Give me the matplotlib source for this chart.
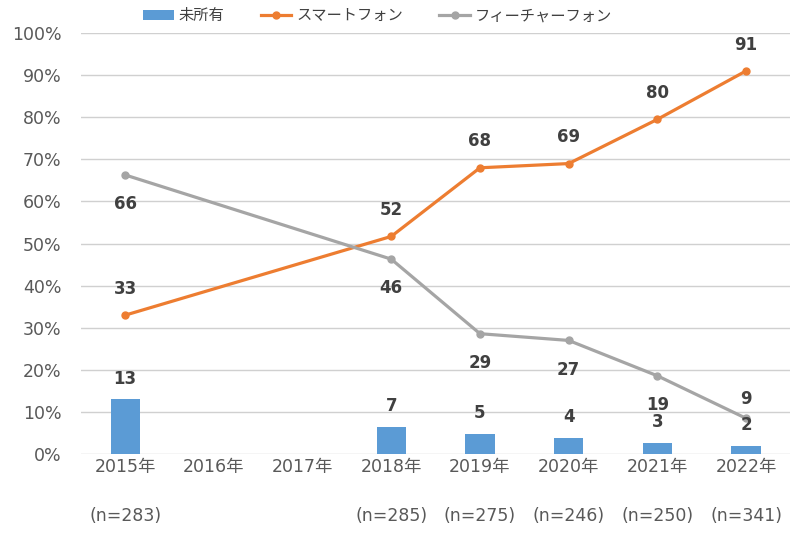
import numpy as np
import matplotlib.pyplot as plt

plt.rcParams['font.family'] = ['DejaVu Sans', 'Noto Sans CJK JP']

# カテゴリ
years = ['2015年', '2016年', '2017年', '2018年', '2019年', '2020年', '2021年', '2022年']
n_labels = ['(n=283)', '', '', '(n=285)', '(n=275)', '(n=246)', '(n=250)', '(n=341)']

# データ (2016, 2017 は調査なし)
data_years = ['2015年', '2018年', '2019年', '2020年', '2021年', '2022年']
unowned = [13, 6.5, 4.8, 3.8, 2.7, 2.0]
unowned_lbl = [13, 7, 5, 4, 3, 2]
smartphone = [33, 51.7, 68, 69, 79.5, 91]
smartphone_lbl = [33, 52, 68, 69, 80, 91]
feature = [66.3, 46.3, 28.6, 27, 18.6, 8.5]
feature_lbl = [66, 46, 29, 27, 19, 9]

c_bar = '#5B9BD5'
c_smart = '#ED7D31'
c_feat = '#A5A5A5'
c_txt = '#404040'

x = np.array([years.index(y) for y in data_years])

fig, ax = plt.subplots(figsize=(8, 5.33), dpi=100)
fig.subplots_adjust(left=0.101, right=0.988, top=0.938, bottom=0.148)

b = ax.bar(x, unowned, width=0.33, color=c_bar, label='未所有', zorder=2)
l1, = ax.plot(x, smartphone, color=c_smart, lw=2.3, marker='o', ms=5, label='スマートフォン', zorder=3)
l2, = ax.plot(x, feature, color=c_feat, lw=2.3, marker='o', ms=5, label='フィーチャーフォン', zorder=3)

# データラベル
lbl_kw = dict(textcoords='offset points', ha='center', va='center',
              fontsize=12, color=c_txt, fontweight='bold')
for xi, v, t in zip(x, unowned, unowned_lbl):
    ax.annotate(str(t), (xi, v), xytext=(0, 15), **lbl_kw)
for xi, v, t in zip(x, smartphone, smartphone_lbl):
    ax.annotate(str(t), (xi, v), xytext=(0, 19), **lbl_kw)
for i, (xi, v, t) in enumerate(zip(x, feature, feature_lbl)):
    dy = 14 if i == len(x) - 1 else -21
    ax.annotate(str(t), (xi, v), xytext=(0, dy), **lbl_kw)

ax.set_xlim(-0.5, len(years) - 0.5)
ax.set_ylim(0, 100)
ax.set_yticks(np.arange(0, 101, 10))
ax.set_yticklabels([f'{v}%' for v in range(0, 101, 10)])
ax.set_xticks(range(len(years)))
ax.set_xticklabels([f'{y}\n{n}' for y, n in zip(years, n_labels)], linespacing=3.2, va='top')

ax.grid(axis='y', color='#D0D0D0', lw=1, zorder=0)
ax.set_axisbelow(True)
for s in ax.spines.values():
    s.set_visible(False)
ax.tick_params(length=0, labelsize=12.5, colors='#595959')
ax.tick_params(axis='x', pad=3)
ax.tick_params(axis='y', pad=14)

fig.legend([b, l1, l2], ['未所有', 'スマートフォン', 'フィーチャーフォン'],
           loc='upper center', bbox_to_anchor=(0.472, 1.01), ncol=3, frameon=False,
           fontsize=11, handlelength=2.0, handletextpad=0.3, columnspacing=2.4,
           labelcolor='#404040')

fig.savefig('out.png', dpi=100)
